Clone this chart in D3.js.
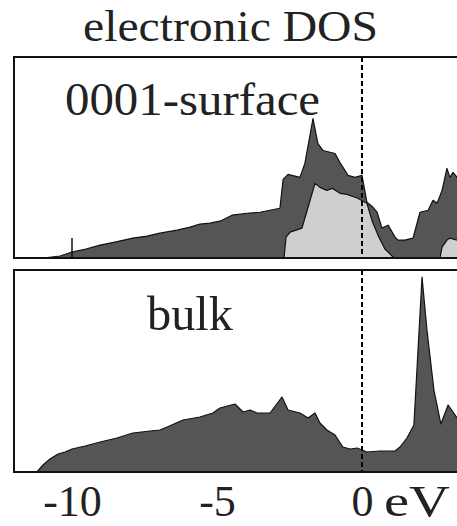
<!DOCTYPE html>
<html>
<head>
<meta charset="utf-8">
<script src="https://cdn.jsdelivr.net/npm/d3@7"></script>
<style>
  html, body { margin: 0; padding: 0; background: #fff; }
  svg { display: block; }
</style>
</head>
<body>
<div id="chart"></div>
<script>
// energies in eV, DOS in arbitrary units
let surfE     = [-12, -11.0, -10.41, -10.0, -9.52, -9.03, -8.52, -7.9, -7.41, -6.97, -6.38, -5.93, -5.59, -5.24, -4.9, -4.48, -3.97, -3.52, -2.83, -2.72, -2.55, -2.14, -1.97, -1.69, -1.52, -1.34, -0.93, -0.76, -0.48, -0.24, 0.0, 0.17, 0.38, 0.52, 0.69, 0.9, 1.14, 1.24, 1.48, 1.76, 2.0, 2.28, 2.45, 2.59, 2.76, 2.93, 3.03, 3.14, 3.28, 3.6]
let surfTotal = [0, 0, 2, 6, 9, 13, 16, 20, 22, 25, 28, 31, 34, 35, 37, 43, 45, 46, 50, 79, 84, 81, 95, 140, 115, 108, 105, 96, 83, 81, 83, 56, 51, 46, 30, 33, 21, 18, 18, 20, 46, 48, 58, 55, 68, 90, 81, 86, 81, 80]

let projE     = [-12, -2.69, -2.62, -2.48, -2.07, -1.86, -1.62, -1.45, -1.21, -1.03, -0.76, -0.52, -0.14, 0.03, 0.17, 0.34, 0.55, 0.79, 1.07, 1.14, 2.69, 2.76, 2.93, 3.03, 3.28, 3.6]
let projDos   = [0, 0, 21, 26, 30, 51, 75, 71, 68, 70, 65, 64, 60, 57, 55, 38, 23, 9, 1, 0, 0, 11, 18, 20, 18, 18]

let bulkE     = [-12, -11.21, -11.0, -10.76, -10.48, -10.24, -10.0, -9.55, -9.03, -8.45, -7.9, -7.31, -6.97, -6.72, -6.17, -5.59, -5.14, -4.9, -4.38, -4.1, -3.86, -3.62, -3.17, -2.76, -2.55, -2.14, -1.86, -1.62, -1.45, -1.21, -0.93, -0.66, -0.41, -0.17, 0.17, 0.62, 1.14, 1.31, 1.55, 1.79, 2.07, 2.24, 2.48, 2.72, 2.97, 3.28, 3.6]
let bulkDos   = [0, 0, 7, 13, 18, 20, 23, 26, 30, 34, 39, 41, 42, 45, 52, 55, 59, 64, 68, 60, 62, 59, 59, 75, 62, 59, 54, 59, 49, 42, 37, 25, 23, 24, 20, 21, 21, 25, 34, 47, 195, 142, 82, 48, 67, 54, 50]

let tickValues = [-10, -5, 0]
let tickLabels = ['-10', '-5', '0']

let width = 457, height = 526

let svg = d3.select('#chart').append('svg')
  .attr('width', width)
  .attr('height', height)

let x = d3.scaleLinear().domain([-12, 4]).range([14, 478])

let panels = [
  {top: 57, bottom: 258, label: '0001-surface', lx: 65, ly: 115, lw: 255, fs: 46},
  {top: 270, bottom: 472, label: 'bulk', lx: 147, ly: 330, lw: 86, fs: 48}
]

let serif = '"Liberation Serif", "Times New Roman", serif'

// title
svg.append('text')
  .attr('x', 83).attr('y', 41)
  .attr('font-family', serif)
  .attr('font-size', 44)
  .attr('textLength', 295)
  .attr('lengthAdjust', 'spacingAndGlyphs')
  .attr('fill', '#222')
  .text('electronic DOS')

function drawArea(g, y, es, vals, fill) {
  let pts = es.map((e, i) => [e, vals[i]])
  let area = d3.area()
    .x(d => x(d[0]))
    .y0(y(0))
    .y1(d => y(d[1]))
  g.append('path')
    .datum(pts)
    .attr('d', area)
    .attr('fill', fill)
    .attr('stroke', '#111')
    .attr('stroke-width', 1.2)
    .attr('stroke-linejoin', 'round')
}

panels.forEach((p, i) => {
  let y = d3.scaleLinear().domain([0, 200]).range([p.bottom, p.top + 2])
  let g = svg.append('g')

  if (i === 0) {
    drawArea(g, y, surfE, surfTotal, '#555')
    drawArea(g, y, projE, projDos, '#cfcfcf')
    // small marker at -10 eV
    g.append('line')
      .attr('x1', x(-10)).attr('x2', x(-10))
      .attr('y1', p.bottom - 20).attr('y2', p.bottom)
      .attr('stroke', '#111').attr('stroke-width', 1.5)
  } else {
    drawArea(g, y, bulkE, bulkDos, '#555')
  }

  // Fermi level
  g.append('line')
    .attr('x1', x(0)).attr('x2', x(0))
    .attr('y1', p.top).attr('y2', p.bottom)
    .attr('stroke', '#000')
    .attr('stroke-width', 2)
    .attr('stroke-dasharray', '5,3')

  // frame (right side runs off the picture)
  g.append('rect')
    .attr('x', x(-12)).attr('y', p.top)
    .attr('width', x(4) - x(-12)).attr('height', p.bottom - p.top)
    .attr('fill', 'none')
    .attr('stroke', '#111')
    .attr('stroke-width', 2)

  g.append('text')
    .attr('x', p.lx).attr('y', p.ly)
    .attr('font-family', serif)
    .attr('font-size', p.fs)
    .attr('textLength', p.lw)
    .attr('lengthAdjust', 'spacingAndGlyphs')
    .attr('fill', '#222')
    .text(p.label)
})

// energy axis
let axis = d3.axisBottom(x)
  .tickValues(tickValues)
  .tickFormat((d, i) => tickLabels[i])
  .tickSize(0)
  .tickPadding(0)

let ax = svg.append('g')
  .attr('transform', 'translate(0,516)')
  .call(axis)
ax.select('.domain').remove()
ax.selectAll('text')
  .attr('dy', 0)
  .attr('font-family', serif)
  .attr('font-size', 44)
  .attr('fill', '#222')

svg.append('text')
  .attr('x', 384).attr('y', 516)
  .attr('font-family', serif)
  .attr('font-size', 44)
  .attr('textLength', 66)
  .attr('lengthAdjust', 'spacingAndGlyphs')
  .attr('fill', '#222')
  .text('eV')
</script>
</body>
</html>
